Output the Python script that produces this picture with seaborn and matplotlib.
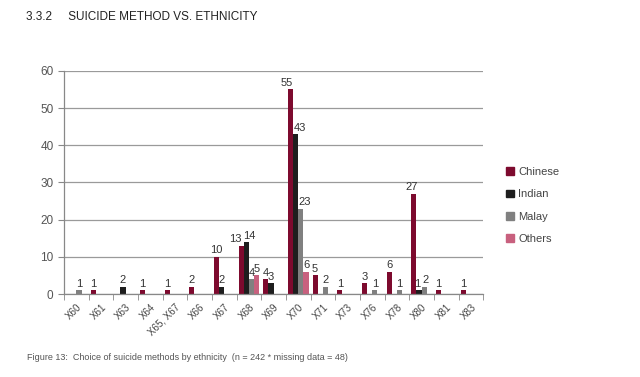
import matplotlib
matplotlib.use("Agg")
import matplotlib.pyplot as plt
import seaborn as sns
import pandas as pd
import numpy as np
from matplotlib.ticker import FixedLocator

methods = ["X60", "X61", "X63", "X64", "X65, X67", "X66", "X67", "X68", "X69",
           "X70", "X71", "X73", "X76", "X78", "X80", "X81", "X83"]
chinese = [0, 1, 0, 1, 1, 2, 10, 13, 4, 55, 5, 1, 3, 6, 27, 1, 1]
indian = [0, 0, 2, 0, 0, 0, 2, 14, 3, 43, 0, 0, 0, 0, 1, 0, 0]
malay = [1, 0, 0, 0, 0, 0, 0, 4, 0, 23, 2, 0, 1, 1, 2, 0, 0]
others = [0, 0, 0, 0, 0, 0, 0, 5, 0, 6, 0, 0, 0, 0, 0, 0, 0]
groups = ["Chinese", "Indian", "Malay", "Others"]
colors = ["#7d0a2e", "#1e1e1e", "#808080", "#c8607e"]

# sideways nudges (pixels) for crowded data labels, as Excel placed them
label_nudge = {("X68", "Chinese"): -6, ("X68", "Indian"): 2.5,
               ("X70", "Chinese"): -3.5, ("X70", "Indian"): 4, ("X70", "Malay"): 4,
               ("X80", "Chinese"): -2.5, ("X80", "Indian"): -1.5, ("X80", "Malay"): 1}

df = pd.DataFrame({"method": methods * 4,
                   "ethnicity": np.repeat(groups, len(methods)),
                   "count": chinese + indian + malay + others})

sns.set_style("white")
plt.rcParams["font.family"] = ["Liberation Sans", "DejaVu Sans"]

fig = plt.figure(figsize=(6.4, 3.77), dpi=100)
ax = fig.add_axes([0.1, 0.22, 0.655, 0.592])

sns.barplot(data=df, x="method", y="count", hue="ethnicity", hue_order=groups,
            palette=colors, width=0.84, saturation=1, linewidth=0, ax=ax,
            legend=False)

# value labels for non-zero bars
for cont, grp in zip(ax.containers, groups):
    labels = [f"{int(v)}" if v > 0 else "" for v in cont.datavalues]
    texts = ax.bar_label(cont, labels=labels, fontsize=8, color="#333333",
                         padding=1)
    for t, m in zip(texts, methods):
        dx = label_nudge.get((m, grp), 0) * 0.72
        t.xyann = (dx, t.xyann[1])

ax.set_ylim(0, 60)
ax.set_xlim(-0.5, len(methods) - 0.5)
ax.set_yticks(range(0, 61, 10))
ax.yaxis.grid(True, color="#9a9a9a", linewidth=0.9)
ax.set_axisbelow(True)
ax.set_xlabel("")
ax.set_ylabel("")
for s in ["top", "right"]:
    ax.spines[s].set_visible(False)
for s in ["left", "bottom"]:
    ax.spines[s].set_color("#888888")
    ax.spines[s].set_linewidth(0.9)

ax.set_xticks(range(len(methods)))
ax.set_xticklabels(methods, rotation=45, ha="right", rotation_mode="anchor",
                   fontsize=7, color="#444444")
ax.xaxis.set_minor_locator(FixedLocator(np.arange(-0.5, len(methods), 1)))
ax.tick_params(axis="x", which="major", length=0, pad=6)
ax.tick_params(axis="x", which="minor", length=4, color="#888888", bottom=True)
ax.tick_params(axis="y", length=4, color="#888888", left=True, labelsize=8.5,
               labelcolor="#555555")

handles = [plt.Rectangle((0, 0), 1, 1, color=c) for c in colors]
fig.legend(handles, groups, loc="center left", bbox_to_anchor=(0.775, 0.455),
           frameon=False, fontsize=8, handlelength=0.7, handleheight=0.7,
           handletextpad=0.4, labelspacing=1.1, labelcolor="#444444")

fig.text(0.04, 0.955, "3.3.2     SUICIDE METHOD VS. ETHNICITY", fontsize=8.5,
         color="#222222", va="center")
fig.text(0.042, 0.053,
         "Figure 13:  Choice of suicide methods by ethnicity  (n = 242 * missing data = 48)",
         fontsize=6.5, color="#555555", va="center")

fig.savefig("out.png", dpi=100)
